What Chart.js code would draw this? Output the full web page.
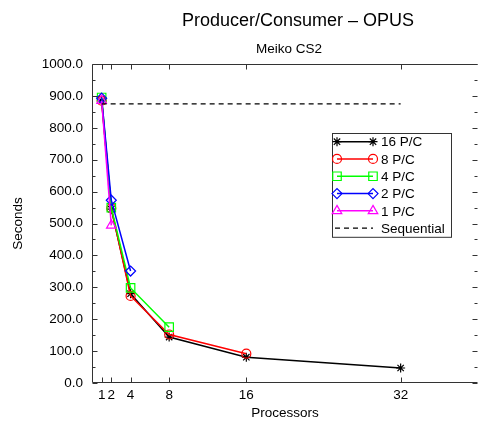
<!DOCTYPE html>
<html>
<head>
<meta charset="utf-8">
<script src="https://cdn.jsdelivr.net/npm/chart.js@4"></script>
<style>
    html, body { margin: 0; padding: 0; background: #fff; }
    #wrap { width: 485px; height: 425px; }
</style>
</head>
<body>
<div id="wrap"><canvas id="chart" width="485" height="425"></canvas></div>
<script>
// Run times (seconds), one array per series
var processors = [1, 2, 4, 8, 16, 32];
var seconds16 = [885, 545, 280, 144, 81, 47];
var seconds8 = [885, 548, 273, 152, 92];
var seconds4 = [895, 550, 298, 175];
var seconds2 = [893, 573, 351];
var seconds1 = [885, 494];
var sequentialX = [1, 32];
var sequentialY = [875, 875];

var seriesNames = ['16 P/C', '8 P/C', '4 P/C', '2 P/C', '1 P/C', 'Sequential'];
var xTickValues = [1, 2, 4, 8, 16, 32];

var FONT = '"Liberation Sans", Arial, Helvetica, sans-serif';

function toPoints(xs, ys) {
    return ys.map(function (y, i) { return { x: xs[i], y: y }; });
}

function series(label, ys, color, style, radius, order) {
    return {
        label: label,
        data: toPoints(processors, ys),
        borderColor: color,
        backgroundColor: 'rgba(0,0,0,0)',
        borderWidth: 1.5,
        pointStyle: style,
        pointRadius: radius,
        pointBorderWidth: 1.2,
        pointBorderColor: color,
        pointBackgroundColor: 'rgba(0,0,0,0)',
        tension: 0,
        order: order
    };
}

var datasets = [
    series(seriesNames[0], seconds16, '#000000', 'star', 4.5, 6),
    series(seriesNames[1], seconds8, '#ff0000', 'circle', 4.5, 5),
    series(seriesNames[2], seconds4, '#00ff00', 'rect', 6, 4),
    series(seriesNames[3], seconds2, '#0000ff', 'rectRot', 5, 3),
    series(seriesNames[4], seconds1, '#ff00ff', 'triangle', 5.5, 2),
    {
        label: seriesNames[5],
        data: toPoints(sequentialX, sequentialY),
        borderColor: '#000000',
        borderWidth: 1.2,
        borderDash: [5, 4],
        pointRadius: 0,
        tension: 0,
        order: 1
    }
];

// Frame with inward ticks on all four sides, like the gnuplot border
var framePlugin = {
    id: 'frame',
    afterDatasetsDraw: function (chart) {
        var ctx = chart.ctx;
        var a = chart.chartArea;
        var xs = chart.scales.x, ys = chart.scales.y;
        var L = Math.round(a.left) + 0.5, R = Math.round(a.right) - 0.5;
        var T = Math.round(a.top) + 0.5, B = Math.round(a.bottom) - 0.5;
        ctx.save();
        ctx.strokeStyle = '#333';
        ctx.lineWidth = 1;
        ctx.beginPath();
        // right edge of the border falls off the picture, so only three sides show
        ctx.moveTo(R, T); ctx.lineTo(L, T); ctx.lineTo(L, B); ctx.lineTo(R, B);
        // x ticks bottom and top
        xTickValues.forEach(function (v) {
            var px = Math.round(xs.getPixelForValue(v)) + 0.5;
            ctx.moveTo(px, B); ctx.lineTo(px, B - 5);
            ctx.moveTo(px, T); ctx.lineTo(px, T + 5);
        });
        // y major and minor ticks left and right
        var ticks = ys.ticks;
        ticks.forEach(function (t, i) {
            var py = Math.round(ys.getPixelForValue(t.value)) + 0.5;
            ctx.moveTo(L, py); ctx.lineTo(L + 5, py);
            ctx.moveTo(R, py); ctx.lineTo(R - 5, py);
            if (i < ticks.length - 1) {
                var mid = (t.value + ticks[i + 1].value) / 2;
                var pm = Math.round(ys.getPixelForValue(mid)) + 0.5;
                ctx.moveTo(L, pm); ctx.lineTo(L + 3, pm);
                ctx.moveTo(R, pm); ctx.lineTo(R - 3, pm);
            }
        });
        ctx.stroke();
        ctx.restore();
    },
    afterDraw: function (chart) {
        var ctx = chart.ctx;
        ctx.save();
        ctx.fillStyle = '#000';
        ctx.textAlign = 'center';
        ctx.textBaseline = 'alphabetic';
        ctx.font = '18px ' + FONT;
        ctx.fillText('Producer/Consumer \u2013 OPUS', 298, 26);
        ctx.font = '13.5px ' + FONT;
        ctx.fillText('Meiko CS2', 289, 53);

        // legend box: line sample with a marker at each end, then label
        var bx = 332, by = 133, bw = 119, rowH = 17.3;
        ctx.strokeStyle = '#333';
        ctx.lineWidth = 1;
        ctx.strokeRect(bx + 0.5, by + 0.5, bw, rowH * chart.data.datasets.length);
        chart.data.datasets.forEach(function (ds, i) {
            var cy = by + rowH * (i + 0.5);
            var x0 = 337, x1 = 373;
            ctx.strokeStyle = ds.borderColor;
            ctx.lineWidth = ds.borderWidth;
            ctx.setLineDash(ds.borderDash || []);
            ctx.beginPath();
            ctx.moveTo(ds.borderDash ? 335 : x0, cy);
            ctx.lineTo(x1, cy);
            ctx.stroke();
            ctx.setLineDash([]);
            if (ds.pointRadius > 0) {
                ctx.fillStyle = 'rgba(0,0,0,0)';
                ctx.lineWidth = ds.pointBorderWidth;
                [x0, x1].forEach(function (mx) {
                    Chart.helpers.drawPoint(ctx, {
                        pointStyle: ds.pointStyle,
                        radius: ds.pointRadius,
                        borderWidth: ds.pointBorderWidth,
                        rotation: 0
                    }, mx, cy);
                });
            }
            ctx.fillStyle = '#000';
            ctx.textAlign = 'left';
            ctx.textBaseline = 'middle';
            ctx.font = '13.5px ' + FONT;
            ctx.fillText(ds.label, 381, cy + 1);
        });
        ctx.restore();
    }
};

var chart = new Chart(document.getElementById('chart').getContext('2d'), {
    type: 'line',
    data: { datasets: datasets },
    options: {
        responsive: false,
        animation: false,
        devicePixelRatio: 1,
        layout: { padding: { top: 64, right: 0, left: 0, bottom: 0 } },
        plugins: {
            legend: { display: false },
            tooltip: { enabled: false },
            title: { display: false }
        },
        scales: {
            x: {
                type: 'linear',
                min: 0,
                max: 40,
                grid: { display: false, drawTicks: false },
                border: { display: false },
                afterBuildTicks: function (scale) {
                    scale.ticks = xTickValues.map(function (v) { return { value: v }; });
                },
                afterFit: function (scale) { scale.height = 42; },
                ticks: {
                    autoSkip: false,
                    maxRotation: 0,
                    padding: 4,
                    color: '#000',
                    font: { family: FONT, size: 13.5 }
                },
                title: {
                    display: true,
                    text: 'Processors',
                    color: '#000',
                    padding: { top: 0, bottom: 4 },
                    font: { family: FONT, size: 13.5 }
                }
            },
            y: {
                min: 0,
                max: 1000,
                grid: { display: false, drawTicks: false },
                border: { display: false },
                afterFit: function (scale) { scale.width = 92; },
                ticks: {
                    stepSize: 100,
                    padding: 9,
                    color: '#000',
                    font: { family: FONT, size: 13.5 },
                    callback: function (v) { return v.toFixed(1); }
                },
                title: {
                    display: true,
                    text: 'Seconds',
                    color: '#000',
                    padding: { top: 10, bottom: 0 },
                    font: { family: FONT, size: 13.5 }
                }
            }
        }
    },
    plugins: [framePlugin]
});
</script>
</body>
</html>
